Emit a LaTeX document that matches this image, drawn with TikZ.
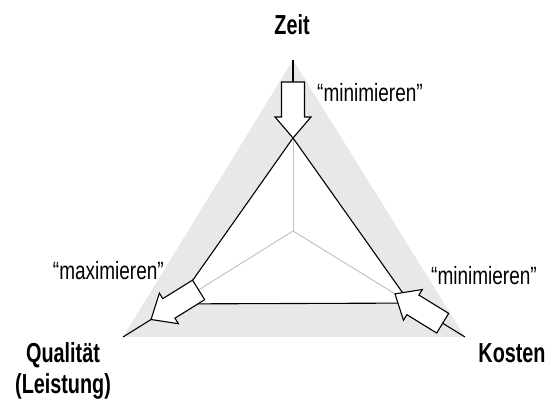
\documentclass[tikz,border=0pt]{standalone}
\usepackage{fontspec}
\setmainfont{Liberation Sans}[FakeStretch=0.76]
\newfontfamily\headfont{Liberation Sans}[FakeStretch=0.72]
\usetikzlibrary{calc}
\definecolor{zonegray}{HTML}{E8E8E8}
\definecolor{axisgray}{HTML}{C4C4C4}
\tikzset{
  blackline/.style={line width=1.1pt, black},
  axisline/.style={line width=1pt, axisgray},
  goal/.style={font=\fontsize{25}{27}\selectfont, inner sep=0pt},
  target/.style={font=\headfont\bfseries\fontsize{27.5}{31}\selectfont, inner sep=0pt, align=center},
  bigarrow/.pic={
    \draw[blackline, fill=white, line join=miter]
      (0,0) -- (-21,18) -- (-21,11.5) -- (-56,11.5) -- (-56,-11.5)
      -- (-21,-11.5) -- (-21,-18) -- cycle;
  }
}
\begin{document}
\begin{tikzpicture}[x=1pt, y=1pt]
\useasboundingbox (0,0) rectangle (551,401);

% outer corners, centre and the corners of the inner triangle
\coordinate (C) at (293,170);
\coordinate (T) at (293,341);
\coordinate (L) at (123,64);
\coordinate (R) at (465,64);
\coordinate (IT) at (293,263);
\coordinate (IL) at ($(C)!0.688!(L)$);
\coordinate (IR) at ($(C)!0.68!(R)$);

% arrow tips and tails along the axes
\coordinate (zeitTip) at (IT);
\coordinate (zeitTail) at ($(IT)+(0,56)$);
\coordinate (kostTip) at ($(C)!0.593!(R)$);
\coordinate (kostTail) at ($(kostTip)!56pt!(R)$);
\coordinate (qualTip) at ($(C)!0.835!(L)$);
\coordinate (qualTail) at ($(qualTip)!56pt!(C)$);

% shaded zone between the two triangles
\fill[zonegray] (T) -- (L) -- (R) -- cycle;
\fill[white] (IT) -- (IL) -- (IR) -- cycle;

% thin axes from the centre
\draw[axisline] (C) -- (IT);
\draw[axisline] (C) -- (IL);
\draw[axisline] (C) -- (IR);

% outer axis segments
\draw[blackline] (T) -- (zeitTail);
\draw[blackline] (kostTail) -- (R);
\draw[blackline] (qualTip) -- (L);

% inner triangle
\draw[blackline, line join=miter] (IT) -- (IL) -- (IR) -- cycle;

% direction arrows
\pic[rotate=-90] at (zeitTip) {bigarrow};
\pic[rotate=148.4] at (kostTip) {bigarrow};
\pic[rotate=211.9] at (qualTip) {bigarrow};

% labels
\node[target, anchor=base] (zeit) at (292,366) {Zeit};
\node[target, anchor=base] (kosten) at (512,38) {Kosten};
\node[target, anchor=base] (qual) at (63,38) {Qualität};
\node[target, anchor=base] (leist) at (63,7) {(Leistung)};
\node[goal, anchor=base west] (gz) at (317,299) {“minimieren”};
\node[goal, anchor=base west] (gk) at (431,116) {“minimieren”};
\node[goal, anchor=base east] (gq) at (164,121) {“maximieren”};
\end{tikzpicture}
\end{document}
